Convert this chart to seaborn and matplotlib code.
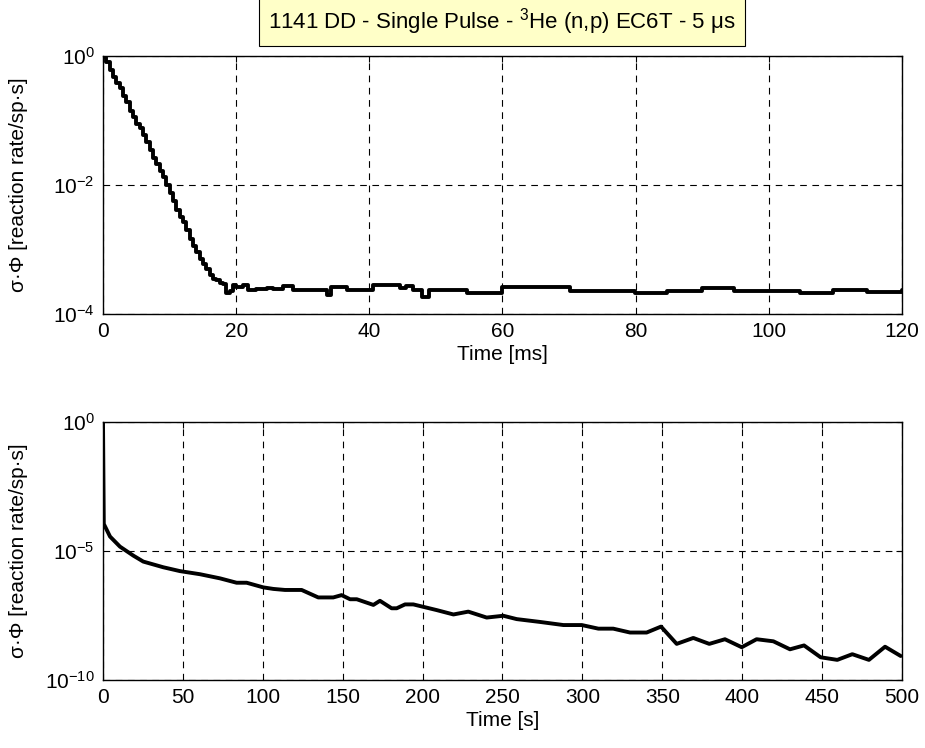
import numpy as np
import pandas as pd
import matplotlib
matplotlib.use("Agg")
import matplotlib.pyplot as plt
import seaborn as sns

# ---- data ----
# top panel: step histogram, time in ms, negated log10 of reaction rate
top_time_ms = [0.0, 0.5, 1.0, 1.5, 2.0, 2.5, 3.0, 3.5, 4.0, 4.5, 5.0, 5.5, 6.0, 6.5,
               7.0, 7.5, 8.0, 8.5, 9.0, 9.5, 10.0, 10.5, 11.0, 11.5, 12.0, 12.5, 13.0,
               13.5, 14.0, 14.5, 15.0, 15.5, 16.0, 16.5, 17.0, 17.5, 18.0, 18.5, 19.0,
               19.5, 20.0, 21.0, 21.8, 23.0, 24.6, 25.5, 27.0, 28.5, 33.6, 34.2, 36.6,
               40.6, 44.6, 45.5, 46.6, 47.9, 48.9, 54.6, 59.9, 70.1, 79.9, 84.7, 90.0,
               94.7, 104.7, 109.7, 114.7, 120.0]
top_neg_log_rate = [0.02, 0.10, 0.22, 0.32, 0.42, 0.50, 0.62, 0.72, 0.86, 0.95, 1.05,
                    1.12, 1.22, 1.34, 1.45, 1.58, 1.68, 1.78, 1.88, 2.00, 2.12, 2.25,
                    2.38, 2.50, 2.58, 2.70, 2.84, 2.94, 3.04, 3.14, 3.22, 3.30, 3.40,
                    3.45, 3.48, 3.52, 3.54, 3.68, 3.64, 3.55, 3.58, 3.55, 3.63, 3.62,
                    3.60, 3.62, 3.56, 3.63, 3.71, 3.58, 3.63, 3.55, 3.60, 3.56, 3.63,
                    3.73, 3.63, 3.67, 3.58, 3.64, 3.68, 3.65, 3.60, 3.64, 3.67, 3.63,
                    3.66, 3.63]

# bottom panel: line, time in s
bot_time_s = [0.0, 0.5, 4.4, 10.6, 19.0, 25.2, 37.7, 48.2, 60.7, 73.2, 83.6, 89.9,
              100.3, 106.6, 113.9, 124.3, 134.7, 144.1, 149.3, 154.6, 158.8, 169.2,
              173.3, 180.6, 183.8, 189.0, 194.2, 208.8, 219.3, 228.6, 240.1, 250.5,
              258.9, 273.5, 288.1, 299.6, 310.0, 319.3, 329.8, 340.2, 349.2, 359.0,
              369.4, 379.4, 389.2, 399.7, 409.0, 419.5, 429.9, 438.7, 449.1, 459.5,
              468.9, 479.3, 489.4, 499.2]
bot_neg_log_rate = [0.0, 3.95, 4.44, 4.83, 5.18, 5.41, 5.63, 5.78, 5.90, 6.06, 6.23,
                    6.23, 6.41, 6.47, 6.51, 6.51, 6.80, 6.80, 6.71, 6.87, 6.87, 7.09,
                    6.93, 7.22, 7.22, 7.07, 7.07, 7.29, 7.46, 7.35, 7.58, 7.51, 7.64,
                    7.75, 7.87, 7.87, 8.01, 8.01, 8.16, 8.16, 7.93, 8.60, 8.37, 8.60,
                    8.42, 8.73, 8.42, 8.50, 8.81, 8.66, 9.12, 9.22, 9.00, 9.22, 8.71,
                    9.07]

top_xticks = [0, 20, 40, 60, 80, 100, 120]
top_yexp = [0, -2, -4]
bot_xticks = [0, 50, 100, 150, 200, 250, 300, 350, 400, 450, 500]
bot_yexp = [0, -5, -10]

title_text = r"1141 DD - Single Pulse - $^{3}$He (n,p) EC6T - 5 $\mu$s"
ylabel_text = "σ·Φ [reaction rate/sp·s]"

# ---- style ----
sns.set_style("white")
plt.rcParams["font.family"] = ["Liberation Sans", "DejaVu Sans"]
plt.rcParams["mathtext.fontset"] = "custom"
plt.rcParams["mathtext.rm"] = "Liberation Sans"
plt.rcParams["mathtext.it"] = "Liberation Sans:italic"
plt.rcParams["mathtext.default"] = "regular"
for k in ["text.color", "axes.labelcolor", "xtick.color", "ytick.color"]:
    plt.rcParams[k] = "black"
FS = 15
FS_T = 16

df_top = pd.DataFrame({"t": top_time_ms, "r": 10.0 ** (-np.array(top_neg_log_rate))})
df_bot = pd.DataFrame({"t": bot_time_s, "r": 10.0 ** (-np.array(bot_neg_log_rate))})

fig = plt.figure(figsize=(9.25, 7.48), dpi=100)
L, W, H = 103 / 925, 799 / 925, 258 / 748
ax1 = fig.add_axes([L, 1 - 314 / 748, W, H])
ax2 = fig.add_axes([L, 1 - 680 / 748, W, H])

sns.lineplot(data=df_top, x="t", y="r", ax=ax1, color="black", linewidth=2.8,
             drawstyle="steps-post", estimator=None, sort=False)
sns.lineplot(data=df_bot, x="t", y="r", ax=ax2, color="black", linewidth=2.8,
             estimator=None, sort=False)


def style(ax, xticks, yexp, xlabel):
    ax.set_yscale("log")
    ax.set_xlim(xticks[0], xticks[-1])
    ax.set_ylim(10.0 ** yexp[-1], 10.0 ** yexp[0])
    ax.set_xticks(xticks)
    ax.set_xticklabels([str(v) for v in xticks], fontsize=FS)
    ax.set_yticks([10.0 ** e for e in yexp])
    ax.set_yticklabels([r"$10^{%d}$" % e for e in yexp], fontsize=FS)
    ax.yaxis.set_minor_locator(matplotlib.ticker.NullLocator())
    ax.tick_params(direction="in", length=4, width=0.8, color="black",
                   labelcolor="black", top=True, right=True, pad=6)
    ax.grid(True, which="major", linestyle=(0, (6, 5)), color="black", linewidth=0.8)
    for s in ax.spines.values():
        s.set_visible(True)
        s.set_color("black")
        s.set_linewidth(1.0)
    ax.set_xlabel(xlabel, fontsize=FS, labelpad=3, color="black")
    ax.set_ylabel(ylabel_text, fontsize=FS, color="black")
    ax.yaxis.set_label_coords(-0.094, 0.5)


style(ax1, top_xticks, top_yexp, "Time [ms]")
style(ax2, bot_xticks, bot_yexp, "Time [s]")

fig.text(502 / 925, 1 - 22 / 748, title_text, ha="center", va="center", fontsize=FS_T,
         color="black",
         bbox=dict(boxstyle="square,pad=0.4", facecolor="#FFFFC8", edgecolor="black",
                   linewidth=0.8))

fig.savefig("out.png", dpi=100)
